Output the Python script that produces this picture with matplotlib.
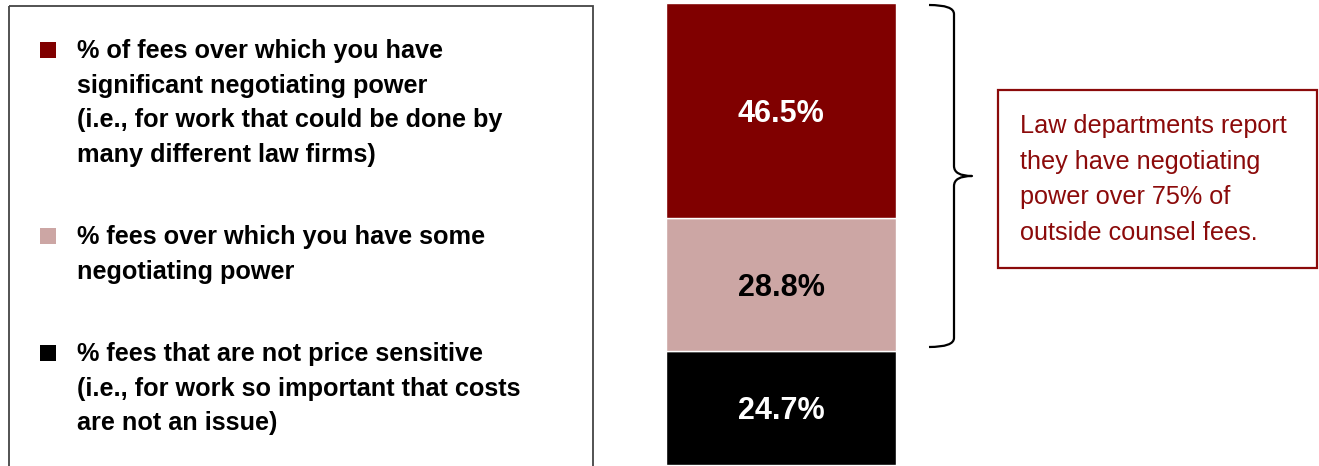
import numpy as np
import matplotlib
matplotlib.use("Agg")
from matplotlib import pyplot as plt
from matplotlib.path import Path
from matplotlib.patches import PathPatch, Rectangle

plt.rcParams['font.family'] = ['Liberation Sans', 'DejaVu Sans']

# data (bottom to top of the stacked bar)
segments = ['not price sensitive', 'some power', 'significant power']
values = [24.7, 28.8, 46.5]
colors = ['#000000', '#CCA6A4', '#800000']
label_colors = ['white', 'black', 'white']

legend_items = [
    ['% of fees over which you have', 'significant negotiating power',
     '(i.e., for work that could be done by', 'many different law firms)'],
    ['% fees over which you have some', 'negotiating power'],
    ['% fees that are not price sensitive', '(i.e., for work so important that costs',
     'are not an issue)'],
]
legend_colors = ['#800000', '#CCA6A4', '#000000']
legend_y = [51, 237, 354]

note_lines = ['Law departments report', 'they have negotiating',
              'power over 75% of', 'outside counsel fees.']
note_color = '#8B0A0A'

W, H = 1319, 466
fig = plt.figure(figsize=(W / 100, H / 100), dpi=100)

# overlay in pixel coordinates for the decorations
ov = fig.add_axes([0, 0, 1, 1])
ov.set_xlim(0, W)
ov.set_ylim(H, 0)
ov.axis('off')
ov.patch.set_alpha(0)

# legend box (open at bottom)
ov.add_patch(Rectangle((9, 6), 584, 470, fill=False, edgecolor='#444444',
                       linewidth=1.3, clip_on=False))
line_gap = 34.7
for lines, col, y0 in zip(legend_items, legend_colors, legend_y):
    ov.add_patch(Rectangle((40, y0 - 9), 16, 16, facecolor=col, edgecolor='none'))
    for i, ln in enumerate(lines):
        ov.text(77, y0 + i * line_gap, ln, fontsize=18.2, fontweight='bold',
                ha='left', va='center', color='black')

# brace
verts = [(929, 5), (954, 5), (954, 14),
         (954, 166),
         (954, 176), (972, 176),
         (954, 176), (954, 186),
         (954, 338),
         (954, 347), (929, 347)]
codes = [Path.MOVETO, Path.CURVE3, Path.CURVE3,
         Path.LINETO,
         Path.CURVE3, Path.CURVE3,
         Path.CURVE3, Path.CURVE3,
         Path.LINETO,
         Path.CURVE3, Path.CURVE3]
ov.add_patch(PathPatch(Path(verts, codes), fill=False, edgecolor='black',
                       linewidth=1.6, capstyle='butt', joinstyle='round'))

# note box
ov.add_patch(Rectangle((998, 90), 319, 178, fill=False, edgecolor=note_color,
                       linewidth=1.6))
for i, ln in enumerate(note_lines):
    ov.text(1020, 126 + i * 35.7, ln, fontsize=18.2, ha='left', va='center',
            color=note_color)

# stacked bar
ax = fig.add_axes([666 / W, 1 / H, 230 / W, 462 / H])
bottom = 0
for v, c, lc in zip(values, colors, label_colors):
    ax.bar(0, v, bottom=bottom, width=1, color=c, edgecolor='white', linewidth=1)
    ax.text(0, bottom + v / 2, f'{v:.1f}%', ha='center', va='center_baseline',
            fontsize=22, fontweight='bold', color=lc)
    bottom += v
ax.set_xlim(-0.5, 0.5)
ax.set_ylim(0, 100)
ax.axis('off')

fig.savefig('out.png', dpi=100)
